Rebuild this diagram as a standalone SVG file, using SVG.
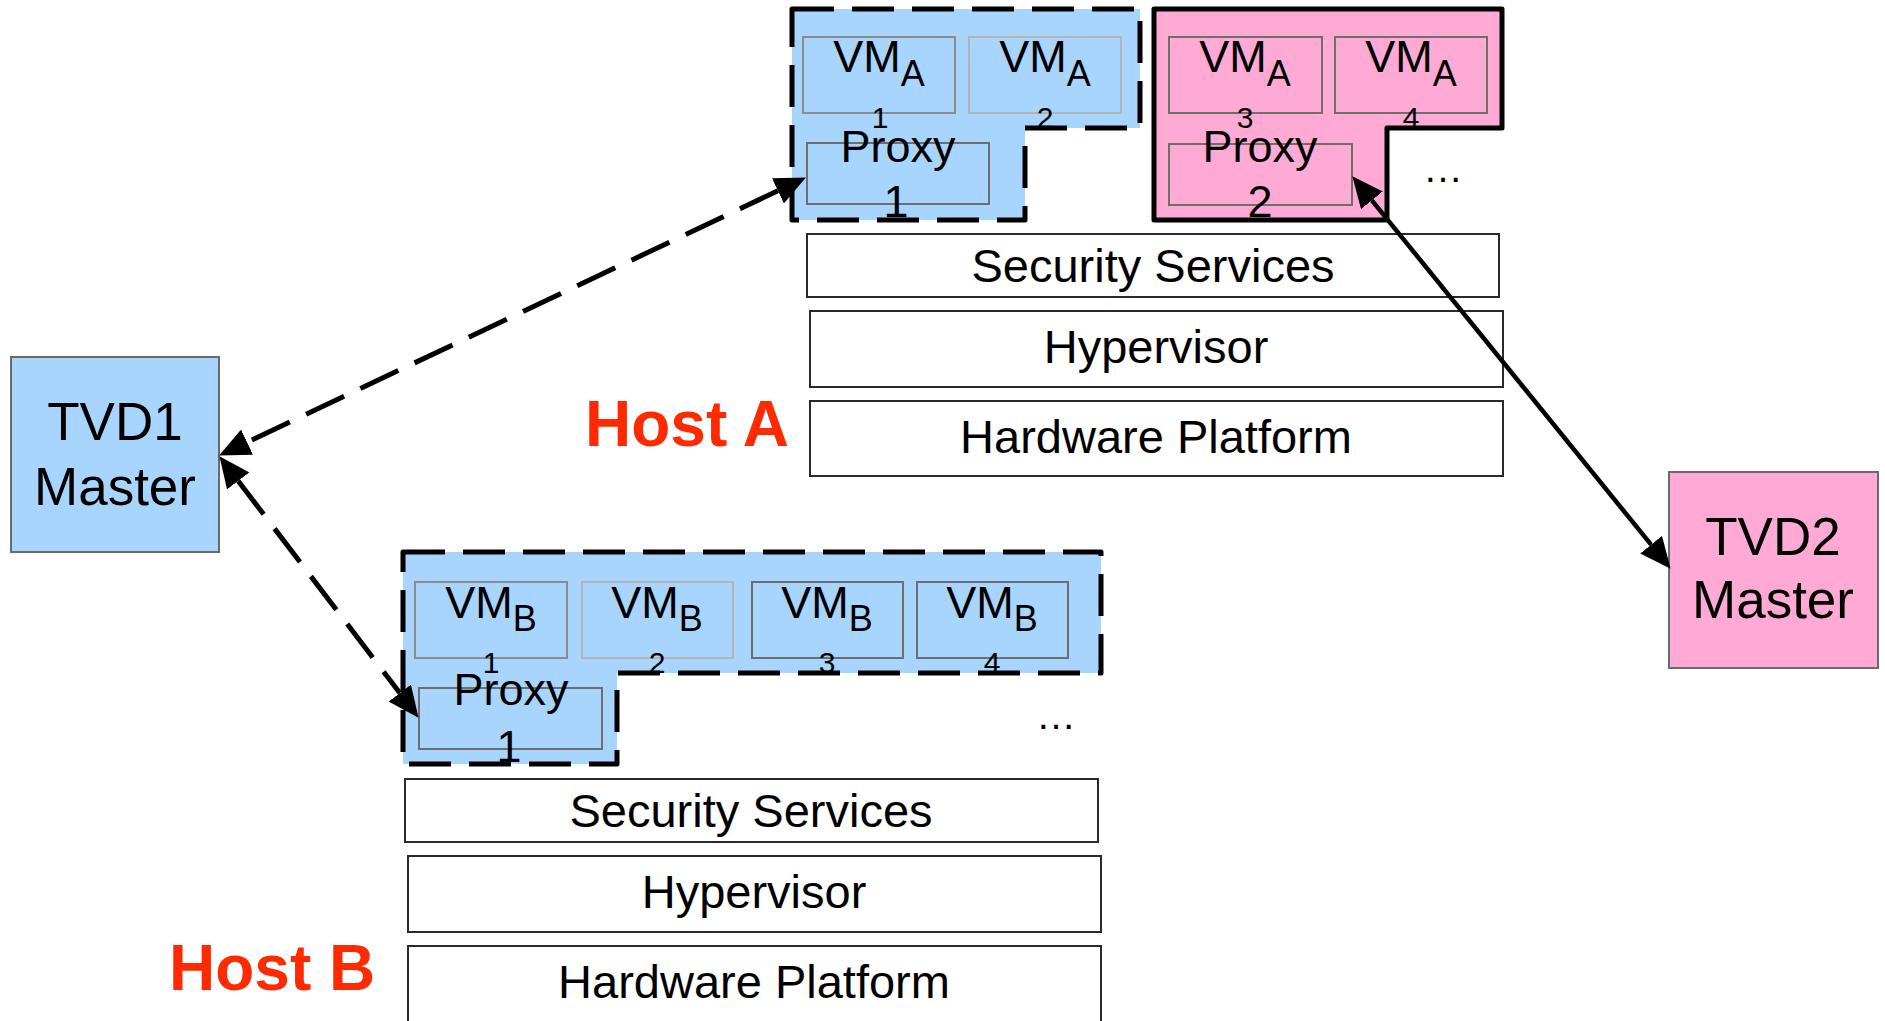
<svg xmlns="http://www.w3.org/2000/svg" width="1885" height="1021" viewBox="0 0 1885 1021">
  <style>
    text { font-family: "Liberation Sans", Arial, sans-serif; fill: #000; }
    .blue { fill: #A8D5FE; }
    .pink { fill: #FFAAD5; }
    .zone-dash { stroke: #000; stroke-width: 5; stroke-dasharray: 42 18; stroke-linejoin: round; }
    .zone-solid { stroke: #000; stroke-width: 5; stroke-linejoin: round; }
    .vm { fill: none; stroke: #6e6e6e; stroke-width: 2; }
    .vm-mid { fill: none; stroke: #8c8c8c; stroke-width: 2; }
    .vm-light { fill: none; stroke: #b4b4b4; stroke-width: 2; }
    .layer { fill: #fff; stroke: #2a2a2a; stroke-width: 2; }
    .master { stroke: #6a6a6a; stroke-width: 2; }
    .vmlbl { font-size: 45px; text-anchor: middle; }
    .num { font-size: 30px; text-anchor: middle; }
    .proxy { font-size: 45px; text-anchor: middle; }
    .lyr { font-size: 47px; text-anchor: middle; }
    .mst { font-size: 53px; text-anchor: middle; }
    .host { font-size: 64px; font-weight: bold; fill: #FF2A00; }
    .dots { font-size: 40px; text-anchor: middle; }
    .link { fill: none; stroke: #000; stroke-width: 5; }
    .link-dash { stroke-dasharray: 42 18; }
    .link-solid { stroke-width: 4.5; }
  </style>
  <defs>
    <marker id="head" markerUnits="userSpaceOnUse" markerWidth="32" markerHeight="28" refX="0" refY="14" orient="auto-start-reverse" viewBox="0 0 32 28">
      <path d="M0,0 L31,14 L0,28 Z" fill="#000"/>
    </marker>
  </defs>

  <!-- Host A, TVD1 compartment -->
  <g id="hostA-tvd1">
    <path class="blue zone-dash" d="M792,9 H1140 V128 H1025 V220 H792 Z"/>
    <rect class="vm-mid" x="803" y="37" width="152" height="76"/>
    <rect class="vm-light" x="969" y="37" width="152" height="76"/>
    <rect class="vm" x="807" y="143" width="182" height="61"/>
    <text class="vmlbl" x="879" y="72">VM<tspan dy="14" font-size="36">A</tspan></text>
    <text class="num" x="880" y="128">1</text>
    <text class="vmlbl" x="1045" y="72">VM<tspan dy="14" font-size="36">A</tspan></text>
    <text class="num" x="1045" y="128">2</text>
    <text class="proxy" x="898" y="162">Proxy</text>
    <text class="proxy" x="896" y="217">1</text>
  </g>

  <!-- Host A, TVD2 compartment -->
  <g id="hostA-tvd2">
    <path class="pink zone-solid" d="M1154,9 H1502 V128 H1387 V220 H1154 Z"/>
    <rect class="vm" x="1169" y="37" width="153" height="76"/>
    <rect class="vm" x="1335" y="37" width="152" height="76"/>
    <rect class="vm" x="1169" y="144" width="183" height="61"/>
    <text class="vmlbl" x="1245" y="72">VM<tspan dy="14" font-size="36">A</tspan></text>
    <text class="num" x="1245" y="128">3</text>
    <text class="vmlbl" x="1411" y="72">VM<tspan dy="14" font-size="36">A</tspan></text>
    <text class="num" x="1411" y="128">4</text>
    <text class="proxy" x="1260" y="162">Proxy</text>
    <text class="proxy" x="1260" y="217">2</text>
  </g>
  <g id="hostA-more"><text class="dots" x="1443" y="182">…</text></g>

  <!-- Host A platform layers -->
  <g id="hostA-security">
    <rect class="layer" x="807" y="234" width="692" height="63"/>
    <text class="lyr" x="1153" y="282">Security Services</text>
  </g>
  <g id="hostA-hypervisor">
    <rect class="layer" x="810" y="311" width="693" height="76"/>
    <text class="lyr" x="1156" y="363">Hypervisor</text>
  </g>
  <g id="hostA-hardware">
    <rect class="layer" x="810" y="401" width="693" height="75"/>
    <text class="lyr" x="1156" y="453">Hardware Platform</text>
  </g>
  <g id="hostA-label"><text class="host" x="585" y="446">Host A</text></g>

  <!-- Host B, TVD1 compartment -->
  <g id="hostB-tvd1">
    <path class="blue zone-dash" d="M403,552 H1101 V673 H617 V764 H403 Z"/>
    <rect class="vm-mid" x="415" y="582" width="152" height="76"/>
    <rect class="vm-light" x="582" y="582" width="151" height="76"/>
    <rect class="vm" x="752" y="582" width="151" height="76"/>
    <rect class="vm" x="917" y="582" width="151" height="76"/>
    <rect class="vm" x="419" y="688" width="183" height="61"/>
    <text class="vmlbl" x="491" y="618">VM<tspan dy="13" font-size="36">B</tspan></text>
    <text class="num" x="491" y="673">1</text>
    <text class="vmlbl" x="657" y="618">VM<tspan dy="13" font-size="36">B</tspan></text>
    <text class="num" x="657" y="673">2</text>
    <text class="vmlbl" x="827" y="618">VM<tspan dy="13" font-size="36">B</tspan></text>
    <text class="num" x="827" y="673">3</text>
    <text class="vmlbl" x="992" y="618">VM<tspan dy="13" font-size="36">B</tspan></text>
    <text class="num" x="992" y="673">4</text>
    <text class="proxy" x="511" y="705">Proxy</text>
    <text class="proxy" x="509" y="762">1</text>
  </g>
  <g id="hostB-more"><text class="dots" x="1056" y="729">…</text></g>

  <!-- Host B platform layers -->
  <g id="hostB-security">
    <rect class="layer" x="405" y="779" width="693" height="63"/>
    <text class="lyr" x="751" y="827">Security Services</text>
  </g>
  <g id="hostB-hypervisor">
    <rect class="layer" x="408" y="856" width="693" height="76"/>
    <text class="lyr" x="754" y="908">Hypervisor</text>
  </g>
  <g id="hostB-hardware">
    <rect class="layer" x="408" y="946" width="693" height="76"/>
    <text class="lyr" x="754" y="998">Hardware Platform</text>
  </g>
  <g id="hostB-label"><text class="host" x="169" y="990">Host B</text></g>

  <!-- Domain masters -->
  <g id="tvd1-master">
    <rect class="blue master" x="11" y="357" width="208" height="195"/>
    <text class="mst" x="115" y="440">TVD1</text>
    <text class="mst" x="115" y="505">Master</text>
  </g>
  <g id="tvd2-master">
    <rect class="pink master" x="1669" y="472" width="209" height="196"/>
    <text class="mst" x="1773" y="555">TVD2</text>
    <text class="mst" x="1773" y="618">Master</text>
  </g>

  <!-- Connectors -->
  <g id="connectors">
    <line class="link link-dash" x1="777.9" y1="190.8" x2="247.1" y2="442.2" marker-start="url(#head)" marker-end="url(#head)"/>
    <line class="link link-dash" x1="238.2" y1="480.9" x2="399.8" y2="693.1" marker-start="url(#head)" marker-end="url(#head)"/>
    <line class="link link-solid" x1="1371.9" y1="200.3" x2="1651.1" y2="544.7" marker-start="url(#head)" marker-end="url(#head)"/>
  </g>
</svg>
